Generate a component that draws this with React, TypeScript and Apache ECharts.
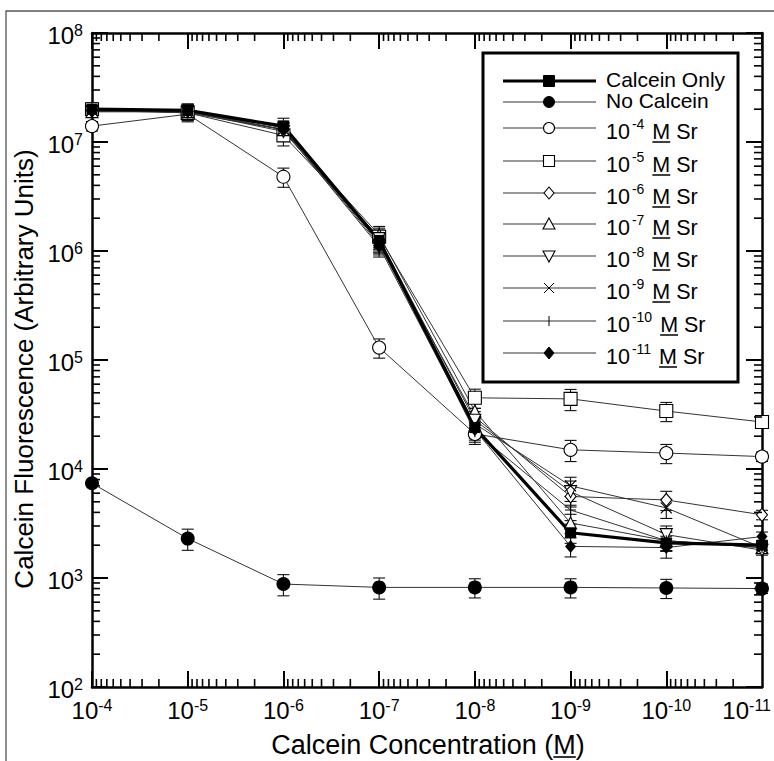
import React, { useEffect, useRef } from 'react';
import * as echarts from 'echarts';

const FONT = 'Liberation Sans, Arial, Helvetica, sans-serif';

// ---- data ----
const concentrations = [1e-4, 1e-5, 1e-6, 1e-7, 1e-8, 1e-9, 1e-10, 1e-11];
const xTickExponents = [-4, -5, -6, -7, -8, -9, -10, -11];
const yTickExponents = [2, 3, 4, 5, 6, 7, 8];

const calceinOnly = [2.0e7, 1.95e7, 1.4e7, 1.25e6, 2.4e4, 2.6e3, 2.1e3, 2.0e3];
const noCalcein = [7.4e3, 2.3e3, 880, 820, 820, 820, 810, 800];
const sr4 = [1.4e7, 1.8e7, 4.8e6, 1.3e5, 2.1e4, 1.5e4, 1.4e4, 1.3e4];
const sr5 = [2.0e7, 1.85e7, 1.15e7, 1.35e6, 4.5e4, 4.4e4, 3.4e4, 2.7e4];
const sr6 = [1.95e7, 1.9e7, 1.3e7, 1.2e6, 3.0e4, 5.6e3, 5.2e3, 3.8e3];
const sr7 = [1.9e7, 1.9e7, 1.3e7, 1.4e6, 3.4e4, 3.2e3, 2.2e3, 1.9e3];
const sr8 = [1.9e7, 1.9e7, 1.25e7, 1.3e6, 2.8e4, 6.2e3, 2.5e3, 1.8e3];
const sr9 = [1.95e7, 1.85e7, 1.3e7, 1.15e6, 2.6e4, 7.0e3, 4.4e3, 1.9e3];
const sr10 = [2.0e7, 1.9e7, 1.35e7, 1.2e6, 2.2e4, 4.2e3, 2.2e3, 1.9e3];
const sr11 = [1.9e7, 1.9e7, 1.3e7, 1.1e6, 2.3e4, 1.95e3, 1.9e3, 2.4e3];

// relative error (fraction of value)
const errCalceinOnly = [0.15, 0.15, 0.18, 0.2, 0.2, 0.2, 0.15, 0.1];
const errNoCalcein = [0.03, 0.22, 0.22, 0.22, 0.2, 0.2, 0.2, 0.1];
const errSr4 = [0.1, 0.15, 0.2, 0.2, 0.2, 0.22, 0.2, 0.1];
const errSr5 = [0.1, 0.15, 0.2, 0.2, 0.2, 0.22, 0.2, 0.1];
const errSr6 = [0.1, 0.15, 0.15, 0.2, 0.2, 0.2, 0.2, 0.1];
const errSr7 = [0.1, 0.15, 0.15, 0.2, 0.2, 0.2, 0.2, 0.1];
const errSr8 = [0.1, 0.15, 0.15, 0.2, 0.2, 0.25, 0.2, 0.1];
const errSr9 = [0.1, 0.15, 0.15, 0.2, 0.2, 0.2, 0.2, 0.1];
const errSr10 = [0.1, 0.15, 0.15, 0.2, 0.2, 0.2, 0.2, 0.1];
const errSr11 = [0.1, 0.15, 0.15, 0.2, 0.2, 0.2, 0.2, 0.1];

const legendLabels = ['Calcein Only', 'No Calcein', '-4', '-5', '-6', '-7', '-8', '-9', '-10', '-11'];

// ---- styles ----
const INV_TRI = 'path://M0,0L10,0L5,9Z';
const CROSS = 'path://M0,0L10,10M10,0L0,10';
const PLUS = 'path://M5,0L5,10M0,5L10,5';

type Def = { name: string; values: number[]; errs: number[]; symbol: string; size: number | number[]; fill: string; lw: number; lc: string };
const defs: Def[] = [
  { name: '10-4 M Sr', values: sr4, errs: errSr4, symbol: 'circle', size: 13, fill: '#fff', lw: 1, lc: '#333' },
  { name: '10-5 M Sr', values: sr5, errs: errSr5, symbol: 'rect', size: 13, fill: '#fff', lw: 1, lc: '#333' },
  { name: '10-6 M Sr', values: sr6, errs: errSr6, symbol: 'diamond', size: [11, 13], fill: '#fff', lw: 1, lc: '#333' },
  { name: '10-7 M Sr', values: sr7, errs: errSr7, symbol: 'triangle', size: 12, fill: '#fff', lw: 1, lc: '#333' },
  { name: '10-8 M Sr', values: sr8, errs: errSr8, symbol: INV_TRI, size: 12, fill: '#fff', lw: 1, lc: '#333' },
  { name: '10-9 M Sr', values: sr9, errs: errSr9, symbol: CROSS, size: 11, fill: 'transparent', lw: 1, lc: '#333' },
  { name: '10-10 M Sr', values: sr10, errs: errSr10, symbol: PLUS, size: 11, fill: 'transparent', lw: 1, lc: '#333' },
  { name: '10-11 M Sr', values: sr11, errs: errSr11, symbol: 'diamond', size: [11, 13], fill: '#000', lw: 1, lc: '#333' },
  { name: 'No Calcein', values: noCalcein, errs: errNoCalcein, symbol: 'circle', size: 14, fill: '#000', lw: 1, lc: '#333' },
  { name: 'Calcein Only', values: calceinOnly, errs: errCalceinOnly, symbol: 'rect', size: 11, fill: '#000', lw: 3.2, lc: '#000' },
];

const xMinorTicks: number[] = [];
for (let d = -11; d < -4; d++) for (let k = 2; k <= 9; k++) xMinorTicks.push(k * Math.pow(10, d));
const yMinorTicks: number[] = [];
for (let d = 2; d < 8; d++) for (let k = 2; k <= 9; k++) yMinorTicks.push(k * Math.pow(10, d));

const supLabel = (v: number) => `{b|10}{s|${Math.round(Math.log10(v))}}`;
const richLabel = {
  b: { fontSize: 24, fontFamily: FONT, color: '#000', lineHeight: 27 },
  s: { fontSize: 16, fontFamily: FONT, color: '#000', verticalAlign: 'top', lineHeight: 16 },
};

const measure = (text: string, size: number) => {
  const ctx = document.createElement('canvas').getContext('2d')!;
  ctx.font = `${size}px ${FONT}`;
  return ctx.measureText(text).width;
};

const X_LABEL_MARGIN = 10;
const axisLineStyle = { color: '#000', width: 2.5 };
const makeX = (pos: string) => ({
  type: 'log', logBase: 10, min: 1e-11, max: 1e-4, inverse: true, position: pos,
  axisLine: { show: true, onZero: false, lineStyle: axisLineStyle },
  axisTick: { show: true, inside: true, length: 16, lineStyle: { color: '#000', width: 2 } },
  minorTick: { show: false }, splitLine: { show: false },
  axisLabel: pos === 'bottom'
    ? { show: true, margin: X_LABEL_MARGIN, formatter: supLabel, rich: richLabel, showMinLabel: false, showMaxLabel: true }
    : { show: false },
});
const makeY = (pos: string) => ({
  type: 'log', logBase: 10, min: 1e2, max: 1e8, position: pos,
  axisLine: { show: true, onZero: false, lineStyle: axisLineStyle },
  axisTick: { show: true, inside: true, length: 16, lineStyle: { color: '#000', width: 2 } },
  minorTick: { show: false }, splitLine: { show: false },
  axisLabel: pos === 'left'
    ? { show: true, margin: 9, padding: [5, 0, 0, 0], formatter: supLabel, rich: richLabel, showMinLabel: true, showMaxLabel: true }
    : { show: false },
});

function buildOption() {
  const errData: number[][] = [];
  defs.forEach((d) => d.values.forEach((v, i) => errData.push([concentrations[i], v * (1 - d.errs[i]), v * (1 + d.errs[i])])));

  const lineSeries = defs.map((d) => ({
    type: 'line', name: d.name, z: 4,
    data: concentrations.map((x, i) => [x, d.values[i]]),
    symbol: d.symbol, symbolSize: d.size, showAllSymbol: true,
    lineStyle: { color: d.lc, width: d.lw },
    itemStyle: { color: d.fill, borderColor: '#000', borderWidth: d.fill === '#000' ? 0 : 1.1, opacity: 1 },
    emphasis: { disabled: true },
  }));

  const tickStyle = { stroke: '#000', lineWidth: 1.6 };
  const xMinorSeries = {
    type: 'custom', silent: true, z: 5,
    data: xMinorTicks.map((v) => [v, 1e5]),
    encode: { x: 0, y: 1 },
    renderItem: (params: any, api: any) => {
      const cs = params.coordSys;
      const px = api.coord([api.value(0), 1e5])[0];
      const top = cs.y, bot = cs.y + cs.height;
      return { type: 'group', children: [
        { type: 'line', shape: { x1: px, y1: bot, x2: px, y2: bot - 8 }, style: tickStyle },
        { type: 'line', shape: { x1: px, y1: top, x2: px, y2: top + 8 }, style: tickStyle },
      ] };
    },
  };
  const yMinorSeries = {
    type: 'custom', silent: true, z: 5,
    data: yMinorTicks.map((v) => [1e-7, v]),
    encode: { x: 0, y: 1 },
    renderItem: (params: any, api: any) => {
      const cs = params.coordSys;
      const py = api.coord([1e-7, api.value(1)])[1];
      const l = cs.x, r = cs.x + cs.width;
      return { type: 'group', children: [
        { type: 'line', shape: { x1: l, y1: py, x2: l + 8, y2: py }, style: tickStyle },
        { type: 'line', shape: { x1: r, y1: py, x2: r - 8, y2: py }, style: tickStyle },
      ] };
    },
  };
  const errSeries = {
    type: 'custom', silent: true, z: 3,
    data: errData,
    encode: { x: 0, y: [1, 2] },
    renderItem: (params: any, api: any) => {
      const x = api.value(0);
      const lo = api.coord([x, api.value(1)]);
      const hi = api.coord([x, api.value(2)]);
      const s = { stroke: '#111', lineWidth: 1.1 };
      return { type: 'group', children: [
        { type: 'line', shape: { x1: lo[0], y1: lo[1], x2: hi[0], y2: hi[1] }, style: s },
        { type: 'line', shape: { x1: lo[0] - 6, y1: lo[1], x2: lo[0] + 6, y2: lo[1] }, style: s },
        { type: 'line', shape: { x1: hi[0] - 6, y1: hi[1], x2: hi[0] + 6, y2: hi[1] }, style: s },
      ] };
    },
  };

  // ---- graphic: frame, titles, legend ----
  const graphics: any[] = [];
  graphics.push({ type: 'rect', silent: true, shape: { x: 6, y: 11, width: 1000, height: 1000 }, style: { fill: 'none', stroke: '#555', lineWidth: 1.3 }, z: -1 });

  // last x tick label (10^-11) kept inside the page, right-aligned near the edge like the reference
  const lastExp = xTickExponents[xTickExponents.length - 1];
  graphics.push({ type: 'text', silent: true, x: 771, y: 687 + X_LABEL_MARGIN, style: { text: `{b|10}{s|${lastExp}}`, rich: richLabel, align: 'right', verticalAlign: 'top', fill: '#000' } });

  const xTitle = 'Calcein Concentration (M)';
  const tSize = 27;
  const tW = measure(xTitle, tSize);
  const tCx = 428, tCy = 745;
  const mStart = tCx - tW / 2 + measure('Calcein Concentration (', tSize);
  graphics.push({ type: 'text', silent: true, x: tCx, y: tCy, style: { text: xTitle, fontSize: tSize, fontFamily: FONT, fill: '#000', align: 'center', verticalAlign: 'middle', lineHeight: 24 } });
  graphics.push({ type: 'line', silent: true, shape: { x1: mStart, y1: tCy + 12, x2: mStart + measure('M', tSize), y2: tCy + 12 }, style: { stroke: '#000', lineWidth: 1.6 } });
  graphics.push({ type: 'text', silent: true, x: 24, y: 369, rotation: Math.PI / 2, style: { text: 'Calcein Fluorescence (Arbitrary Units)', fontSize: 26, fontFamily: FONT, fill: '#000', align: 'center', verticalAlign: 'middle' } });

  // legend
  const lx = 483, ly = 53, lw = 255, lh = 329;
  graphics.push({ type: 'rect', silent: true, z: 10, shape: { x: lx, y: ly, width: lw, height: lh }, style: { fill: '#fff', stroke: '#000', lineWidth: 3 } });
  const rows = [81, 102, 128, 161, 193, 224, 256, 288, 321, 353];
  const textRows = [79.5, 100.5];
  const l1 = 503, l2 = 596, mx = 549, tx = 606;
  const LF = 21.5;
  const blk = { fill: '#000', stroke: '#000', lineWidth: 1 };
  const wht = { fill: '#fff', stroke: '#000', lineWidth: 1.1 };
  const thinLine = { stroke: '#000', lineWidth: 1 };
  rows.forEach((ry, i) => {
    const thick = i === 0;
    graphics.push({ type: 'line', silent: true, z: 11, shape: { x1: l1, y1: ry, x2: l2, y2: ry }, style: { stroke: thick ? '#000' : '#333', lineWidth: thick ? 3.2 : 1 } });
    const mks: any[] = [];
    switch (i) {
      case 0: mks.push({ type: 'rect', shape: { x: mx - 5.5, y: ry - 5.5, width: 11, height: 11 }, style: blk }); break;
      case 1: mks.push({ type: 'circle', shape: { cx: mx, cy: ry, r: 5.5 }, style: blk }); break;
      case 2: mks.push({ type: 'circle', shape: { cx: mx, cy: ry, r: 5.5 }, style: wht }); break;
      case 3: mks.push({ type: 'rect', shape: { x: mx - 5.5, y: ry - 5.5, width: 11, height: 11 }, style: wht }); break;
      case 4: mks.push({ type: 'polygon', shape: { points: [[mx, ry - 6], [mx + 5, ry], [mx, ry + 6], [mx - 5, ry]] }, style: wht }); break;
      case 5: mks.push({ type: 'polygon', shape: { points: [[mx, ry - 6], [mx + 6, ry + 5], [mx - 6, ry + 5]] }, style: wht }); break;
      case 6: mks.push({ type: 'polygon', shape: { points: [[mx - 6, ry - 5], [mx + 6, ry - 5], [mx, ry + 6]] }, style: wht }); break;
      case 7:
        mks.push({ type: 'line', shape: { x1: mx - 5, y1: ry - 5, x2: mx + 5, y2: ry + 5 }, style: thinLine });
        mks.push({ type: 'line', shape: { x1: mx + 5, y1: ry - 5, x2: mx - 5, y2: ry + 5 }, style: thinLine });
        break;
      case 8: mks.push({ type: 'line', shape: { x1: mx, y1: ry - 5, x2: mx, y2: ry + 5 }, style: thinLine }); break;
      default: mks.push({ type: 'polygon', shape: { points: [[mx, ry - 6], [mx + 5, ry], [mx, ry + 6], [mx - 5, ry]] }, style: blk });
    }
    mks.forEach((m) => { m.silent = true; m.z = 12; graphics.push(m); });
    if (i < 2) {
      graphics.push({ type: 'text', silent: true, z: 12, x: tx, y: textRows[i], style: { text: legendLabels[i], fontSize: 21, fontFamily: FONT, fill: '#000', align: 'left', verticalAlign: 'middle', lineHeight: 19 } });
    } else {
      const ty = ry + 4;
      const w10 = measure('10', LF);
      const sup = legendLabels[i];
      const wsup = measure(sup, 14);
      const supX = tx + w10 + 2;
      const mX = supX + wsup + 8;
      graphics.push({ type: 'text', silent: true, z: 12, x: tx, y: ty, style: { text: '10', fontSize: LF, fontFamily: FONT, fill: '#000', align: 'left', verticalAlign: 'middle' } });
      graphics.push({ type: 'text', silent: true, z: 12, x: supX, y: ty - 8, style: { text: sup, fontSize: 14, fontFamily: FONT, fill: '#000', align: 'left', verticalAlign: 'middle' } });
      graphics.push({ type: 'text', silent: true, z: 12, x: mX, y: ty, style: { text: 'M Sr', fontSize: LF, fontFamily: FONT, fill: '#000', align: 'left', verticalAlign: 'middle' } });
      graphics.push({ type: 'line', silent: true, z: 12, shape: { x1: mX, y1: ty + 10, x2: mX + measure('M', LF), y2: ty + 10 }, style: { stroke: '#000', lineWidth: 1.5 } });
    }
  });

  return {
    animation: false,
    backgroundColor: '#fff',
    grid: { left: 92, right: 12, top: 33, bottom: 74, containLabel: false, outerBoundsMode: 'none' },
    xAxis: [makeX('bottom'), makeX('top')],
    yAxis: [makeY('left'), makeY('right')],
    series: [errSeries, ...lineSeries, xMinorSeries, yMinorSeries],
    graphic: graphics,
  };
}

export default function App() {
  const ref = useRef<HTMLDivElement>(null);
  useEffect(() => {
    document.body.style.margin = '0';
    const chart = echarts.init(ref.current!, null, { renderer: 'svg' });
    chart.setOption(buildOption() as any);
    return () => chart.dispose();
  }, []);
  return <div ref={ref} style={{ width: 774, height: 761 }} />;
}
